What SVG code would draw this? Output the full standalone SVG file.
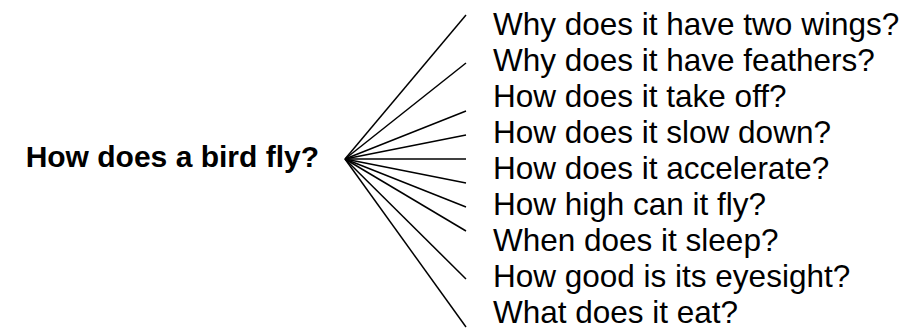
<svg xmlns="http://www.w3.org/2000/svg" width="908" height="334" viewBox="0 0 908 334">
<style>
.t{font-family:"Liberation Sans",Arial,sans-serif;font-size:31.5px;fill:#000}
.title{font-family:"Liberation Sans",Arial,sans-serif;font-size:30px;font-weight:bold;fill:#000}
.c line{stroke:#000;stroke-width:1.5}
</style>
<rect width="908" height="334" fill="#fff"/>
<g id="root"><text class="title" x="319" y="167" text-anchor="end">How does a bird fly?</text></g>
<g id="connectors" class="c">
<line x1="345" y1="159" x2="466" y2="15"/>
<line x1="345" y1="159" x2="466" y2="63"/>
<line x1="345" y1="159" x2="466" y2="111"/>
<line x1="345" y1="159" x2="466" y2="135"/>
<line x1="345" y1="159" x2="466" y2="159"/>
<line x1="345" y1="159" x2="466" y2="183"/>
<line x1="345" y1="159" x2="466" y2="207"/>
<line x1="345" y1="159" x2="466" y2="231"/>
<line x1="345" y1="159" x2="466" y2="279"/>
<line x1="345" y1="159" x2="466" y2="327"/>
</g>
<g id="q1"><text class="t" x="493" y="35">Why does it have two wings?</text></g>
<g id="q2"><text class="t" x="493" y="71">Why does it have feathers?</text></g>
<g id="q3"><text class="t" x="493" y="107">How does it take off?</text></g>
<g id="q4"><text class="t" x="493" y="143">How does it slow down?</text></g>
<g id="q5"><text class="t" x="493" y="179">How does it accelerate?</text></g>
<g id="q6"><text class="t" x="493" y="215">How high can it fly?</text></g>
<g id="q7"><text class="t" x="493" y="251">When does it sleep?</text></g>
<g id="q8"><text class="t" x="493" y="287">How good is its eyesight?</text></g>
<g id="q9"><text class="t" x="493" y="323">What does it eat?</text></g>
</svg>
